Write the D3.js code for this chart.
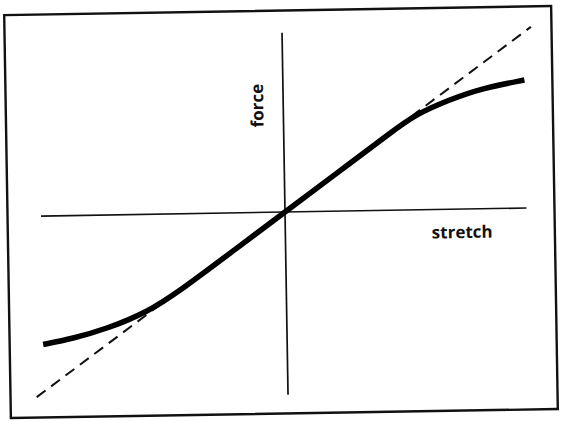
<!DOCTYPE html>
<html>
<head>
<meta charset="utf-8">
<script src="https://cdn.jsdelivr.net/npm/d3@7"></script>
<style>
  body { margin: 0; background: #fff; }
  text { font-family: "Open Sans", "DejaVu Sans", sans-serif; font-weight: 700; fill: #111; }
</style>
</head>
<body>
<div id="chart"></div>
<script>
// force vs stretch (units: axis half-length = 1)
const stretch = [-1.0, -0.88, -0.74, -0.57, -0.44, -0.2, 0, 0.2, 0.45, 0.54, 0.68, 0.82, 0.99];
const force   = [-0.71, -0.68, -0.63, -0.54, -0.43, -0.195, 0, 0.195, 0.44, 0.525, 0.605, 0.667, 0.707];

// straight (Hooke's law) reference line
const hookeStretch = [-1.03, 1.02];
const hookeForce   = [-1.0, 1.0];

const xLabel = "stretch";
const yLabel = "force";

const width = 562, height = 421;

const svg = d3.select("#chart")
  .append("svg")
  .attr("width", width)
  .attr("height", height);

// the scanned figure sits slightly rotated
const g = svg.append("g")
  .attr("transform", "rotate(-0.95,285,212)");

const x = d3.scaleLinear()
  .domain([-1, 1])
  .range([41, 529]);

const y = d3.scaleLinear()
  .domain([-1, 1])
  .range([393, 31]);

// frame
g.append("rect")
  .attr("x", 7.5)
  .attr("y", 10.5)
  .attr("width", 547)
  .attr("height", 403)
  .attr("fill", "none")
  .attr("stroke", "#111")
  .attr("stroke-width", 2.4);

// axes through the origin
g.append("line")
  .attr("x1", x(-1)).attr("x2", x(0.99))
  .attr("y1", y(0)).attr("y2", y(0))
  .attr("stroke", "#111")
  .attr("stroke-width", 1.7);

g.append("line")
  .attr("x1", x(0)).attr("x2", x(0))
  .attr("y1", y(0.99)).attr("y2", y(-1.01))
  .attr("stroke", "#111")
  .attr("stroke-width", 1.7);

// dashed line
const hooke = hookeStretch.map((s, i) => [s, hookeForce[i]]);
g.append("path")
  .datum(hooke)
  .attr("fill", "none")
  .attr("stroke", "#111")
  .attr("stroke-width", 2)
  .attr("stroke-dasharray", "11,7")
  .attr("d", d3.line().x(d => x(d[0])).y(d => y(d[1])));

// actual force curve
const curve = stretch.map((s, i) => [s, force[i]]);
g.append("path")
  .datum(curve)
  .attr("fill", "none")
  .attr("stroke", "#000")
  .attr("stroke-width", 5.5)
  .attr("stroke-linecap", "butt")
  .attr("d", d3.line()
    .x(d => x(d[0]))
    .y(d => y(d[1]))
    .curve(d3.curveBasis));

// labels
g.append("text")
  .attr("transform", `translate(${x(0) - 20},${y(0.59)}) rotate(-90)`)
  .attr("text-anchor", "middle")
  .attr("font-size", 17)
  .text(yLabel);

g.append("text")
  .attr("x", x(0.6))
  .attr("y", y(-0.16))
  .attr("text-anchor", "start")
  .attr("font-size", 17)
  .text(xLabel);
</script>
</body>
</html>
